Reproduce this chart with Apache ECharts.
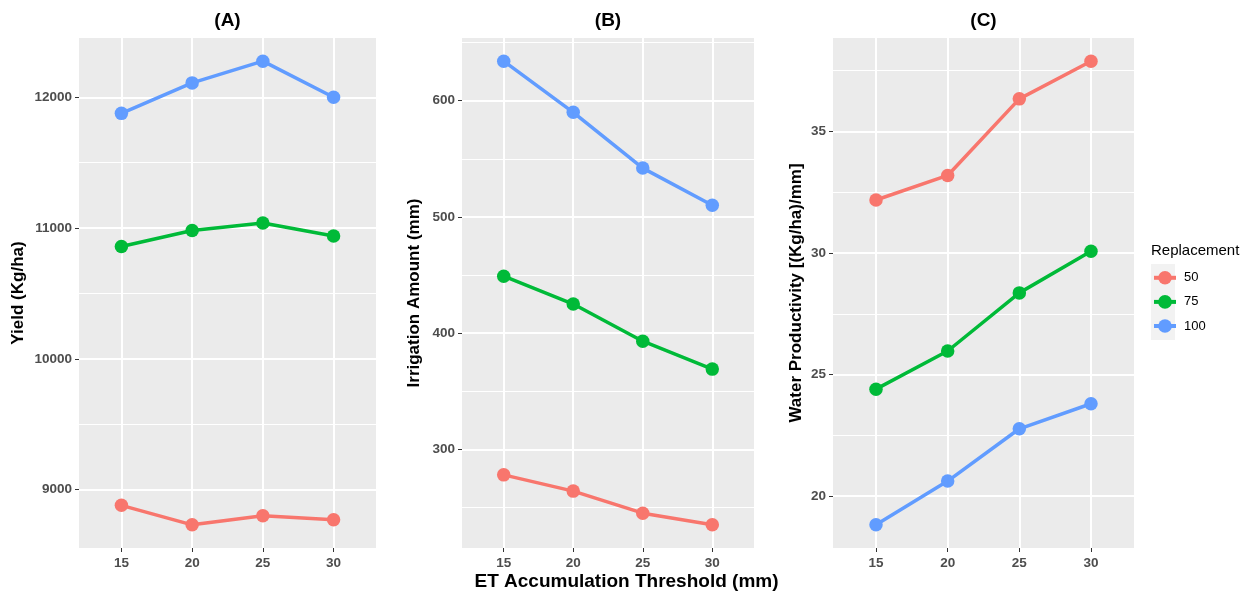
<!DOCTYPE html>
<html>
<head>
<meta charset="utf-8">
<title>ET accumulation threshold: yield, irrigation and water productivity</title>
<script src="https://cdn.jsdelivr.net/npm/echarts@6/dist/echarts.min.js"></script>
<style>
  html, body { margin: 0; padding: 0; background: #ffffff; }
  #chart { width: 1253px; height: 594px; }
</style>
</head>
<body>
<div id="chart"></div>
<script>
// ET accumulation threshold (mm) on the x axis of every panel
const thresholds = [15, 20, 25, 30];

// Replacement levels (legend entries) and their colours
const replacements = ['50', '75', '100'];
const replacementColors = ['#F8766D', '#00BA38', '#619CFF'];

// (A) Yield (Kg/ha)
const yieldR50  = [8880, 8731, 8800, 8770];
const yieldR75  = [10859, 10982, 11038, 10939];
const yieldR100 = [11877, 12110, 12276, 12000];
const yieldTicks = [9000, 10000, 11000, 12000];
const yieldMinorTicks = [9500, 10500, 11500];

// (B) Irrigation amount (mm)
const irrigationR50  = [278, 264, 245, 235];
const irrigationR75  = [449, 425, 393, 369];
const irrigationR100 = [634, 590, 542, 510];
const irrigationTicks = [300, 400, 500, 600];
const irrigationMinorTicks = [250, 350, 450, 550, 650];

// (C) Water productivity [(Kg/ha)/mm]
const productivityR50  = [32.18, 33.19, 36.34, 37.89];
const productivityR75  = [24.40, 25.97, 28.36, 30.07];
const productivityR100 = [18.82, 20.62, 22.77, 23.80];
const productivityTicks = [20, 25, 30, 35];
const productivityMinorTicks = [22.5, 27.5, 32.5, 37.5];

const FONT = '"Liberation Sans", Arial, Helvetica, sans-serif';

const panels = [
  { title: '(A)', yName: 'Yield (Kg/ha)', nameGap: 52,
    series: [yieldR50, yieldR75, yieldR100], ticks: yieldTicks, minor: yieldMinorTicks,
    grid: { left: 79, top: 38, width: 297, height: 510 } },
  { title: '(B)', yName: 'Irrigation Amount (mm)', nameGap: 39,
    series: [irrigationR50, irrigationR75, irrigationR100], ticks: irrigationTicks, minor: irrigationMinorTicks,
    grid: { left: 462, top: 38, width: 292, height: 510 } },
  { title: '(C)', yName: 'Water Productivity [(Kg/ha)/mm]', nameGap: 28,
    series: [productivityR50, productivityR75, productivityR100], ticks: productivityTicks, minor: productivityMinorTicks,
    grid: { left: 833, top: 38, width: 301, height: 510 } }
];

// Continuous range padded by 5% on each side; the discrete x range by 0.6 of a step
function paddedRange(arrays) {
  const all = [].concat(...arrays);
  const lo = Math.min(...all), hi = Math.max(...all);
  const pad = (hi - lo) * 0.05;
  return [lo - pad, hi + pad];
}
const xStep = thresholds[1] - thresholds[0];
const xMin = thresholds[0] - 0.6 * xStep;
const xMax = thresholds[thresholds.length - 1] + 0.6 * xStep;

const tickLabelStyle = { color: '#4D4D4D', fontFamily: FONT, fontWeight: 'bold', fontSize: 13.5 };
const axisTitleStyle = { color: '#000000', fontFamily: FONT, fontWeight: 'bold', fontSize: 17 };

const grids = [], xAxes = [], yAxes = [], seriesList = [], titles = [];

panels.forEach((p, i) => {
  grids.push(Object.assign({ show: true, backgroundColor: '#EBEBEB', borderWidth: 0,
                             outerBoundsMode: 'none' }, p.grid));

  titles.push({
    text: p.title, left: p.grid.left + p.grid.width / 2, top: 11, textAlign: 'center', padding: 0,
    textStyle: { fontFamily: FONT, fontWeight: 'bold', fontSize: 19, color: '#000000' }
  });

  xAxes.push({
    type: 'value', gridIndex: i, min: xMin, max: xMax,
    axisLine: { show: false },
    axisTick: { show: true, length: 4, customValues: thresholds, lineStyle: { color: '#333333', width: 1 } },
    axisLabel: Object.assign({ customValues: thresholds, margin: 8, formatter: v => String(v) }, tickLabelStyle),
    splitLine: { show: true, lineStyle: { color: '#FFFFFF', width: 2 } }
  });

  const [yMin, yMax] = paddedRange(p.series);
  // minor grid lines (thin)
  yAxes.push({
    type: 'value', gridIndex: i, min: yMin, max: yMax, position: 'left',
    axisLine: { show: false },
    axisTick: { show: false, customValues: p.minor },
    axisLabel: { show: false, customValues: p.minor },
    splitLine: { show: true, lineStyle: { color: '#FFFFFF', width: 1 } }
  });
  // major axis with labels and title
  yAxes.push({
    type: 'value', gridIndex: i, min: yMin, max: yMax, position: 'left',
    name: p.yName, nameLocation: 'middle', nameGap: p.nameGap, nameRotate: 90,
    nameTextStyle: axisTitleStyle,
    axisLine: { show: false },
    axisTick: { show: true, length: 4, customValues: p.ticks, lineStyle: { color: '#333333', width: 1 } },
    axisLabel: Object.assign({ customValues: p.ticks, margin: 7, formatter: v => String(v) }, tickLabelStyle),
    splitLine: { show: true, lineStyle: { color: '#FFFFFF', width: 2 } }
  });

  p.series.forEach((vals, k) => {
    seriesList.push({
      name: replacements[k], type: 'line', xAxisIndex: i, yAxisIndex: 2 * i + 1,
      data: thresholds.map((t, j) => [t, vals[j]]),
      symbol: 'circle', symbolSize: 13.5, showSymbol: true,
      lineStyle: { color: replacementColors[k], width: 3.5 },
      itemStyle: { color: replacementColors[k] },
      emphasis: { disabled: true }
    });
  });
});

// shared x-axis title, centred under the whole figure
titles.push({
  text: 'ET Accumulation Threshold (mm)', left: 626.5, top: 572, textAlign: 'center', padding: 0,
  textStyle: { fontFamily: FONT, fontWeight: 'bold', fontSize: 19, color: '#000000' }
});

// legend heading
titles.push({
  text: 'Replacement', left: 1151, top: 243, padding: 0,
  textStyle: { fontFamily: FONT, fontWeight: 'normal', fontSize: 15, color: '#000000' }
});

const chart = echarts.init(document.getElementById('chart'), null, { renderer: 'canvas' });
chart.setOption({
  animation: false,
  backgroundColor: '#FFFFFF',
  title: titles,
  grid: grids,
  xAxis: xAxes,
  yAxis: yAxes,
  legend: {
    data: replacements, orient: 'vertical', left: 1152, top: 271, padding: 0,
    itemWidth: 22, itemHeight: 17, itemGap: 10.5,
    lineStyle: { width: 4 },
    textStyle: { fontFamily: FONT, fontSize: 13, color: '#000000', padding: [0, 0, 0, 3] },
    selectedMode: false
  },
  graphic: [{
    type: 'rect', z: 0, silent: true,
    shape: { x: 1151, y: 264, width: 24, height: 76 },
    style: { fill: '#F2F2F2' }
  }],
  series: seriesList
});
</script>
</body>
</html>
